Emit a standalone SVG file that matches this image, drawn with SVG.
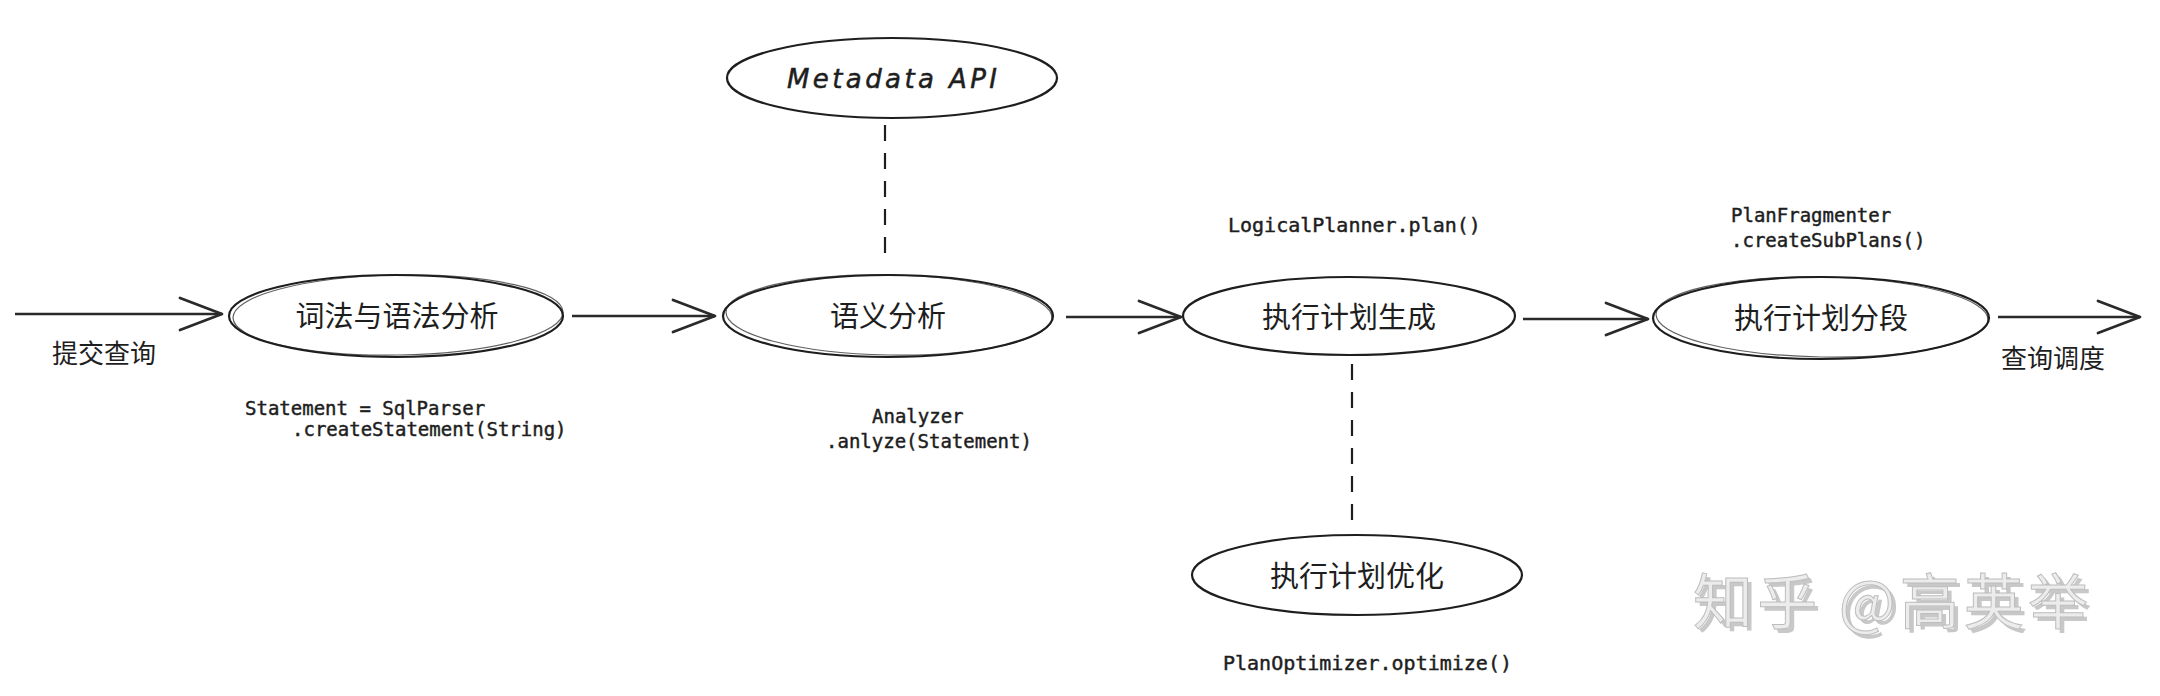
<svg xmlns="http://www.w3.org/2000/svg" width="2160" height="696" viewBox="0 0 2160 696">
<style>
.node ellipse{fill:none;stroke:#1e1e1e;stroke-width:2.2}
.node .sk{stroke-width:1.2;opacity:0.7}
.cn{font-family:"Noto Sans CJK SC","Noto Sans",sans-serif;font-size:29px;fill:#1e1e1e;text-anchor:middle}
.lbl{font-family:"Noto Sans CJK SC","Noto Sans",sans-serif;font-size:26px;fill:#1e1e1e}
.code{font-family:"DejaVu Sans Mono","Liberation Mono",monospace;font-size:19px;fill:#1e1e1e;stroke:#1e1e1e;stroke-width:0.45}
.code20{font-family:"DejaVu Sans Mono","Liberation Mono",monospace;font-size:20px;fill:#1e1e1e;stroke:#1e1e1e;stroke-width:0.45}
.hand{font-family:"DejaVu Sans","Liberation Sans",sans-serif;font-style:italic;font-size:26px;fill:#1e1e1e;stroke:#1e1e1e;stroke-width:0.5;text-anchor:middle}
.arrow{fill:none;stroke:#2a2a2a;stroke-width:2.6;marker-end:url(#head)}
.dash{fill:none;stroke:#1e1e1e;stroke-width:2.2;stroke-dasharray:16 12}
.wm{font-family:"Noto Sans CJK SC",sans-serif;font-size:60px}
</style>
<defs>
<marker id="head" markerUnits="userSpaceOnUse" markerWidth="50" markerHeight="40" refX="44" refY="18" orient="auto">
<path d="M2,2 L44,18 L2,34" fill="none" stroke="#2a2a2a" stroke-width="2.8" stroke-linecap="round" stroke-linejoin="round"/>
</marker>
</defs>
<rect width="2160" height="696" fill="#ffffff"/>

<g id="connectors">
<line class="arrow" x1="15" y1="314" x2="222" y2="314"/>
<line class="arrow" x1="572" y1="316" x2="715" y2="316"/>
<line class="arrow" x1="1066" y1="317" x2="1181" y2="317"/>
<line class="arrow" x1="1523" y1="319" x2="1648" y2="319"/>
<line class="arrow" x1="1998" y1="317" x2="2140" y2="317"/>
<line class="dash" x1="885" y1="125" x2="885" y2="260"/>
<line class="dash" x1="1352" y1="364" x2="1352" y2="530"/>
</g>

<g id="label-submit"><text class="lbl" x="52" y="363">提交查询</text></g>
<g id="label-schedule"><text class="lbl" x="2001" y="368">查询调度</text></g>

<g id="node-parse" class="node">
<ellipse cx="396" cy="316" rx="167" ry="41"/>
<ellipse class="sk" cx="398" cy="315" rx="165" ry="40" transform="rotate(-1 398 315)"/>
<text class="cn" x="397" y="327">词法与语法分析</text>
</g>
<g id="label-parse">
<text class="code" x="245" y="415">Statement = SqlParser</text>
<text class="code" x="292" y="436">.createStatement(String)</text>
</g>

<g id="node-meta" class="node">
<ellipse cx="892" cy="78" rx="165" ry="40"/>
<text class="hand" x="892" y="88" textLength="210">Metadata API</text>
</g>

<g id="node-semantic" class="node">
<ellipse cx="888" cy="316" rx="165" ry="41"/>
<ellipse class="sk" cx="889" cy="315" rx="163" ry="40" transform="rotate(1 889 315)"/>
<text class="cn" x="888" y="327">语义分析</text>
</g>
<g id="label-semantic">
<text class="code" x="872" y="423">Analyzer</text>
<text class="code" x="826" y="448">.anlyze(Statement)</text>
</g>

<g id="node-plan" class="node">
<ellipse cx="1349" cy="316" rx="166" ry="39"/>
<text class="cn" x="1349" y="328">执行计划生成</text>
</g>
<g id="label-plan"><text class="code20" x="1228" y="232">LogicalPlanner.plan()</text></g>

<g id="node-optimize" class="node">
<ellipse cx="1357" cy="575" rx="165" ry="40"/>
<text class="cn" x="1357" y="587">执行计划优化</text>
</g>
<g id="label-optimize"><text class="code20" x="1223" y="670">PlanOptimizer.optimize()</text></g>

<g id="node-fragment" class="node">
<ellipse cx="1821" cy="318" rx="168" ry="41"/>
<ellipse class="sk" cx="1822" cy="317" rx="166" ry="40" transform="rotate(1 1822 317)"/>
<text class="cn" x="1821" y="329">执行计划分段</text>
</g>
<g id="label-fragment">
<text class="code" x="1731" y="222">PlanFragmenter</text>
<text class="code" x="1731" y="247">.createSubPlans()</text>
</g>

<g id="watermark">
<text class="wm" x="1697" y="628" fill="#c8c8c8" textLength="395">知乎 @高英举</text>
<text class="wm" x="1693" y="624" fill="#ececec" stroke="#bdbdbd" stroke-width="1" textLength="395">知乎 @高英举</text>
</g>
</svg>
